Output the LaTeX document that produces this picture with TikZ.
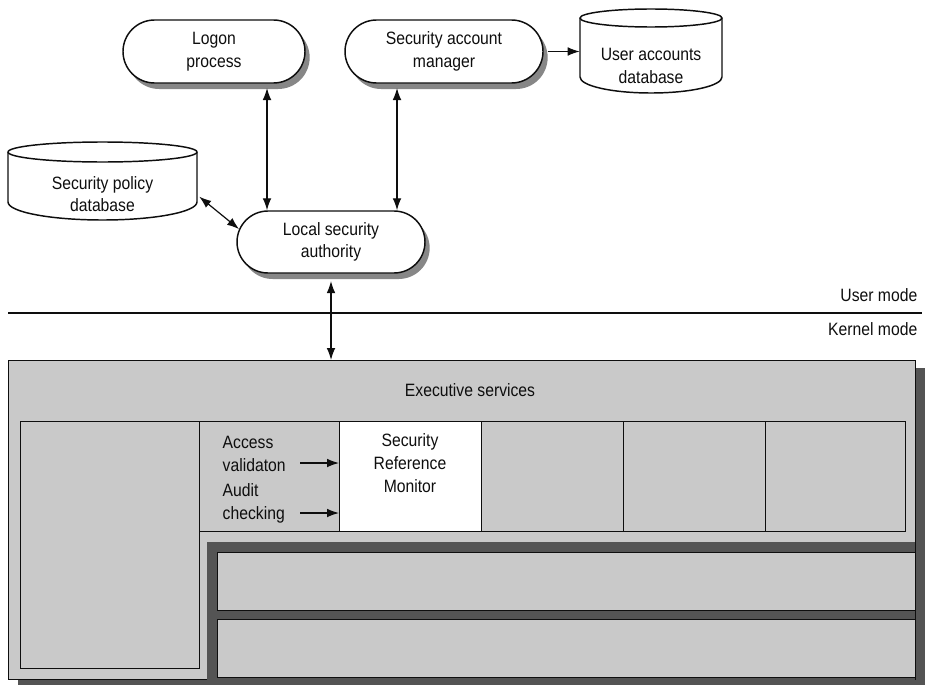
\documentclass[tikz,border=0pt]{standalone}
\usepackage{fontspec}
\setmainfont{Liberation Sans}[FakeStretch=0.88]
\usepackage{tikz}
\usetikzlibrary{arrows.meta,positioning,shapes.geometric,shapes.misc,shadows,calc}
\definecolor{ink}{RGB}{14,14,14}
\definecolor{panelgray}{RGB}{201,201,201}
\definecolor{darkgray}{RGB}{84,84,84}
\definecolor{pillshade}{RGB}{135,135,135}
\newdimen\px \px=0.75pt

\begin{document}
\begin{tikzpicture}[x=0.75pt,y=-0.75pt,
    every node/.style={font=\fontsize{13.4}{17}\selectfont\color{ink}},
    proc/.style={rounded rectangle,draw=ink,line width=1.1pt,fill=white,
      align=center,inner sep=0pt,
      drop shadow={shadow xshift=3.5pt,shadow yshift=-4.5pt,
        fill=pillshade,opacity=1}},
    vessel/.style={draw=ink,line width=1.1pt,fill=white},
    bay/.style={draw=ink,fill=panelgray,line width=1pt,inner sep=0pt,
      anchor=north west},
    link/.style={draw=ink,line width=0.9pt,
      {Latex[length=9pt,width=6.5pt]}-{Latex[length=9pt,width=6.5pt]}},
    feed/.style={draw=ink,line width=0.9pt,-{Latex[length=9pt,width=6.5pt]}}]
  \useasboundingbox (0,0) rectangle (930,685);

  % databases
  \draw[vessel] (580,18) -- (580,77)
    arc[start angle=180,end angle=360,x radius=71\px,y radius=16\px]
    -- (722,18) arc[start angle=0,end angle=180,x radius=71\px,y radius=9\px];
  \draw[vessel,fill=none] (580,18)
    arc[start angle=180,end angle=360,x radius=71\px,y radius=9\px];
  \draw[vessel] (8,152) -- (8,202)
    arc[start angle=180,end angle=360,x radius=94.5\px,y radius=18\px]
    -- (197,152) arc[start angle=0,end angle=180,x radius=94.5\px,y radius=10\px];
  \draw[vessel,fill=none] (8,152)
    arc[start angle=180,end angle=360,x radius=94.5\px,y radius=10\px];
  \node[align=center,minimum width=142\px,inner sep=0pt] (userdb)
    at (651,66) {User accounts\\database};
  \node[align=center,minimum width=189\px,inner sep=0pt] (policy)
    at (102.5,194) {Security policy\\database};

  % user mode side
  \node[proc,minimum width=182\px,minimum height=63\px] (logon)
    at (214,51.5) {Logon\\process};
  \node[proc,minimum width=198\px,minimum height=63\px] (sam)
    at (444,51.5) {Security account\\manager};
  \node[proc,minimum width=188\px,minimum height=62\px] (lsa)
    at (331,242) {Local security\\authority};

  \coordinate (logonlink) at (267,88);
  \coordinate (samlink) at (397,88);
  \draw[link] (logonlink) -- (logonlink |- lsa.north);
  \draw[link] (samlink) -- (samlink |- lsa.north);
  \draw[feed] ([xshift=3pt]sam.east) -- (sam.east -| userdb.west);
  \draw[link] ([xshift=1.5pt,yshift=-2pt]policy.east) -- (lsa.172);

  % mode boundary
  \coordinate (splitL) at (8,313);
  \coordinate (splitR) at (922,313);
  \draw[ink,line width=1.6pt] (splitL) -- (splitR);
  \node[anchor=east] (usermode) at (922,295) {User mode};
  \node[anchor=east] (kernelmode) at (922,329) {Kernel mode};

  % kernel mode side
  \fill[darkgray] (18,368) rectangle (925,685);
  \node[bay,minimum width=907\px,minimum height=319\px] (exec) at (8,360) {};
  \node (exectitle) at (470,390) {Executive services};
  \draw[link] ([yshift=-5.5pt]lsa.south) -- (lsa.south |- exec.north);

  \node[bay,minimum width=179\px,minimum height=247\px] (leftcol) at (20,421) {};
  \node[bay,minimum width=140\px,minimum height=110\px] (checks) at (199,421) {};
  \node[bay,fill=white,minimum width=142\px,minimum height=110\px] (srm)
    at (339,421) {};
  \node[bay,minimum width=142\px,minimum height=110\px] (cellA) at (481,421) {};
  \node[bay,minimum width=142\px,minimum height=110\px] (cellB) at (623,421) {};
  \node[bay,minimum width=140\px,minimum height=110\px] (cellC) at (765,421) {};
  \node[align=center] (srmtext) at (410,463) {Security\\Reference\\Monitor};

  \node[anchor=west,align=left] (access) at (218,454) {Access\\validaton};
  \node[anchor=west,align=left] (audit) at (218,503.5) {Audit\\checking};
  \coordinate (accessout) at (300,463);
  \coordinate (auditout) at (300,513);
  \draw[feed] (accessout) -- (accessout -| srm.west);
  \draw[feed] (auditout) -- (auditout -| srm.west);

  \fill[darkgray] (207,542) rectangle (915,681);
  \node[bay,minimum width=698\px,minimum height=58\px] (upperbay) at (217,552) {};
  \node[bay,minimum width=698\px,minimum height=58\px] (lowerbay) at (217,619) {};
\end{tikzpicture}
\end{document}
